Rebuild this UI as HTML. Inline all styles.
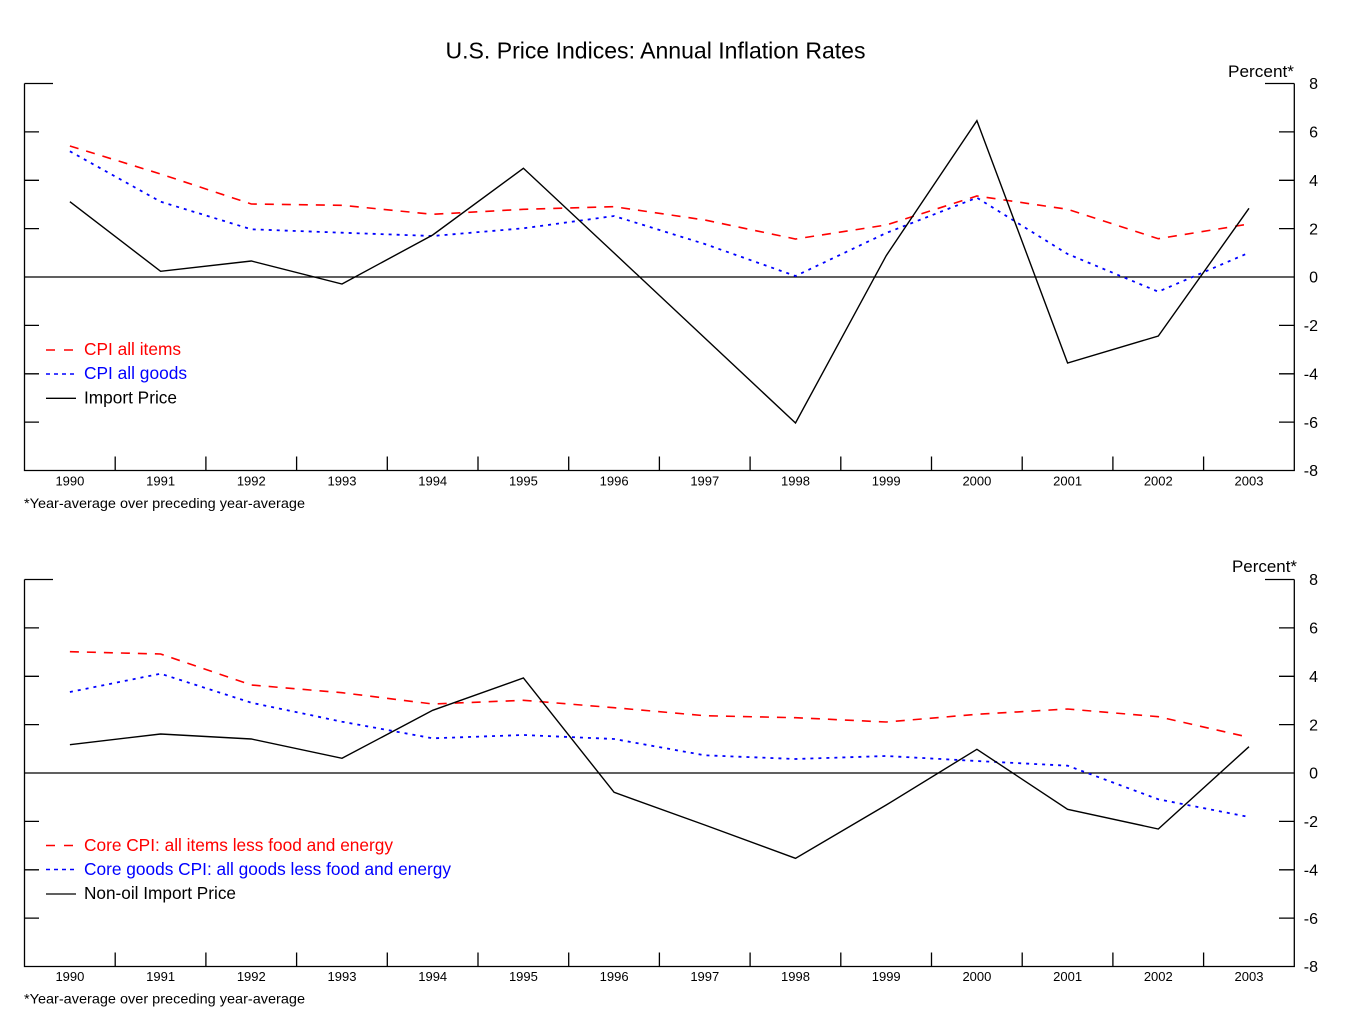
<!DOCTYPE html>
<html>
<head>
<meta charset="utf-8">
<style>
html,body{margin:0;padding:0;background:#fff;}
svg{display:block;}
text{font-family:"Liberation Sans",Arial,sans-serif;}
</style>
</head>
<body>
<svg width="1352" height="1022" viewBox="0 0 1352 1022" xmlns="http://www.w3.org/2000/svg">
<rect width="1352" height="1022" fill="#fff"/>
<text x="655.5" y="58.5" font-size="23" text-anchor="middle" textLength="420" lengthAdjust="spacingAndGlyphs" fill="#000">U.S. Price Indices: Annual Inflation Rates</text>

<!-- ================= TOP CHART ================= -->
<g id="top">
<g stroke="#000" stroke-width="1.3" fill="none">
<path d="M24.5 83.5 V470.5 H1294.3 V83.5"/>
<path d="M24.5 83.5 H53 M1265 83.5 H1294.3"/>
<path d="M24.5 277 H1294.3"/>
<path d="M24.5 131.9 H39 M24.5 180.3 H39 M24.5 228.6 H39 M24.5 325.4 H39 M24.5 373.8 H39 M24.5 422.1 H39"/>
<path d="M1279 131.9 H1294.3 M1279 180.3 H1294.3 M1279 228.6 H1294.3 M1279 325.4 H1294.3 M1279 373.8 H1294.3 M1279 422.1 H1294.3"/>
<path d="M115.2 470.5 V456.5 M205.9 470.5 V456.5 M296.6 470.5 V456.5 M387.3 470.5 V456.5 M478 470.5 V456.5 M568.7 470.5 V456.5 M659.4 470.5 V456.5 M750.1 470.5 V456.5 M840.8 470.5 V456.5 M931.5 470.5 V456.5 M1022.2 470.5 V456.5 M1112.9 470.5 V456.5 M1203.6 470.5 V456.5"/>
</g>
<g font-size="16" text-anchor="end" fill="#000">
<text x="1318" y="89.2">8</text>
<text x="1318" y="137.6">6</text>
<text x="1318" y="186">4</text>
<text x="1318" y="234.3">2</text>
<text x="1318" y="282.7">0</text>
<text x="1318" y="331.1">-2</text>
<text x="1318" y="379.5">-4</text>
<text x="1318" y="427.8">-6</text>
<text x="1318" y="476.2">-8</text>
</g>
<text x="1228" y="77" font-size="17" textLength="66" lengthAdjust="spacingAndGlyphs" fill="#000">Percent*</text>
<g font-size="13" text-anchor="middle" fill="#000">
<text x="69.9" y="485.5">1990</text>
<text x="160.6" y="485.5">1991</text>
<text x="251.3" y="485.5">1992</text>
<text x="342" y="485.5">1993</text>
<text x="432.7" y="485.5">1994</text>
<text x="523.4" y="485.5">1995</text>
<text x="614.1" y="485.5">1996</text>
<text x="704.8" y="485.5">1997</text>
<text x="795.5" y="485.5">1998</text>
<text x="886.2" y="485.5">1999</text>
<text x="976.9" y="485.5">2000</text>
<text x="1067.6" y="485.5">2001</text>
<text x="1158.3" y="485.5">2002</text>
<text x="1249" y="485.5">2003</text>
</g>
<text x="24" y="508" font-size="14" textLength="281" lengthAdjust="spacingAndGlyphs" fill="#000">*Year-average over preceding year-average</text>

<!-- series -->
<polyline fill="none" stroke="#ff0000" stroke-width="1.6" stroke-dasharray="9,8"
 points="69.9,146 160.6,174 251.3,204 342,205.3 432.7,214.3 523.4,209.3 614.1,206.7 704.8,220 795.5,239 886.2,225 976.9,196 1067.6,209.3 1158.3,238.7 1249,224"/>
<polyline fill="none" stroke="#0000ff" stroke-width="1.8" stroke-dasharray="3,5"
 points="69.9,151.3 160.6,201.7 251.3,229.3 342,232.7 432.7,236 523.4,228.3 614.1,216 704.8,244 795.5,276 886.2,233 976.9,197.7 1067.6,254 1158.3,291.7 1249,252.7"/>
<polyline fill="none" stroke="#000" stroke-width="1.4"
 points="69.9,201.7 160.6,271.3 251.3,261 342,284 432.7,235 523.4,168.3 614.1,253 704.8,338 795.5,423 886.2,255.7 976.9,120.7 1067.6,363 1158.3,336 1249,208.3"/>

<!-- legend -->
<path d="M46 350 H73" stroke="#ff0000" stroke-width="1.4" stroke-dasharray="9,9"/>
<path d="M46 374 H76" stroke="#0000ff" stroke-width="1.4" stroke-dasharray="4,4"/>
<path d="M46 398.3 H76" stroke="#000" stroke-width="1.3"/>
<text x="84" y="355" font-size="17.3" fill="#ff0000" textLength="97" lengthAdjust="spacingAndGlyphs">CPI all items</text>
<text x="84" y="379" font-size="17.3" fill="#0000ff" textLength="103" lengthAdjust="spacingAndGlyphs">CPI all goods</text>
<text x="84" y="403.3" font-size="17.3" fill="#000" textLength="93" lengthAdjust="spacingAndGlyphs">Import Price</text>
</g>

<!-- ================= BOTTOM CHART ================= -->
<g id="bottom">
<g stroke="#000" stroke-width="1.3" fill="none">
<path d="M24.5 579.5 V966.5 H1294.3 V579.5"/>
<path d="M24.5 579.5 H53 M1265 579.5 H1294.3"/>
<path d="M24.5 773 H1294.3"/>
<path d="M24.5 627.9 H39 M24.5 676.3 H39 M24.5 724.6 H39 M24.5 821.4 H39 M24.5 869.8 H39 M24.5 918.1 H39"/>
<path d="M1279 627.9 H1294.3 M1279 676.3 H1294.3 M1279 724.6 H1294.3 M1279 821.4 H1294.3 M1279 869.8 H1294.3 M1279 918.1 H1294.3"/>
<path d="M115.2 966.5 V952.5 M205.9 966.5 V952.5 M296.6 966.5 V952.5 M387.3 966.5 V952.5 M478 966.5 V952.5 M568.7 966.5 V952.5 M659.4 966.5 V952.5 M750.1 966.5 V952.5 M840.8 966.5 V952.5 M931.5 966.5 V952.5 M1022.2 966.5 V952.5 M1112.9 966.5 V952.5 M1203.6 966.5 V952.5"/>
</g>
<g font-size="16" text-anchor="end" fill="#000">
<text x="1318" y="585.2">8</text>
<text x="1318" y="633.6">6</text>
<text x="1318" y="682">4</text>
<text x="1318" y="730.3">2</text>
<text x="1318" y="778.7">0</text>
<text x="1318" y="827.1">-2</text>
<text x="1318" y="875.5">-4</text>
<text x="1318" y="923.8">-6</text>
<text x="1318" y="972.2">-8</text>
</g>
<text x="1232" y="572" font-size="17" textLength="65" lengthAdjust="spacingAndGlyphs" fill="#000">Percent*</text>
<g font-size="13" text-anchor="middle" fill="#000">
<text x="69.9" y="981">1990</text>
<text x="160.6" y="981">1991</text>
<text x="251.3" y="981">1992</text>
<text x="342" y="981">1993</text>
<text x="432.7" y="981">1994</text>
<text x="523.4" y="981">1995</text>
<text x="614.1" y="981">1996</text>
<text x="704.8" y="981">1997</text>
<text x="795.5" y="981">1998</text>
<text x="886.2" y="981">1999</text>
<text x="976.9" y="981">2000</text>
<text x="1067.6" y="981">2001</text>
<text x="1158.3" y="981">2002</text>
<text x="1249" y="981">2003</text>
</g>
<text x="24" y="1003.5" font-size="14" textLength="281" lengthAdjust="spacingAndGlyphs" fill="#000">*Year-average over preceding year-average</text>

<polyline fill="none" stroke="#ff0000" stroke-width="1.6" stroke-dasharray="9,8"
 points="69.9,651.7 160.6,654 251.3,685 342,692.7 432.7,704 523.4,700.3 614.1,707.7 704.8,715.7 795.5,717.7 886.2,722 976.9,714.3 1067.6,709 1158.3,716.7 1249,737.3"/>
<polyline fill="none" stroke="#0000ff" stroke-width="1.8" stroke-dasharray="3,5"
 points="69.9,692 160.6,673.7 251.3,702.7 342,721.7 432.7,738.3 523.4,735 614.1,739 704.8,755.3 795.5,759 886.2,756 976.9,761 1067.6,765.7 1158.3,799.3 1249,817"/>
<polyline fill="none" stroke="#000" stroke-width="1.4"
 points="69.9,744.7 160.6,734 251.3,739 342,758.3 432.7,710.3 523.4,678 614.1,792.3 704.8,825 795.5,858.3 886.2,805 976.9,749.3 1067.6,809.3 1158.3,829 1249,746.7"/>

<path d="M46 845.5 H73" stroke="#ff0000" stroke-width="1.4" stroke-dasharray="9,9"/>
<path d="M46 869.5 H76" stroke="#0000ff" stroke-width="1.4" stroke-dasharray="4,4"/>
<path d="M46 894 H76" stroke="#000" stroke-width="1.3"/>
<text x="84" y="851" font-size="17.3" fill="#ff0000" textLength="309" lengthAdjust="spacingAndGlyphs">Core CPI: all items less food and energy</text>
<text x="84" y="875" font-size="17.3" fill="#0000ff" textLength="367" lengthAdjust="spacingAndGlyphs">Core goods CPI: all goods less food and energy</text>
<text x="84" y="899" font-size="17.3" fill="#000" textLength="152" lengthAdjust="spacingAndGlyphs">Non-oil Import Price</text>
</g>
</svg>
</body>
</html>
